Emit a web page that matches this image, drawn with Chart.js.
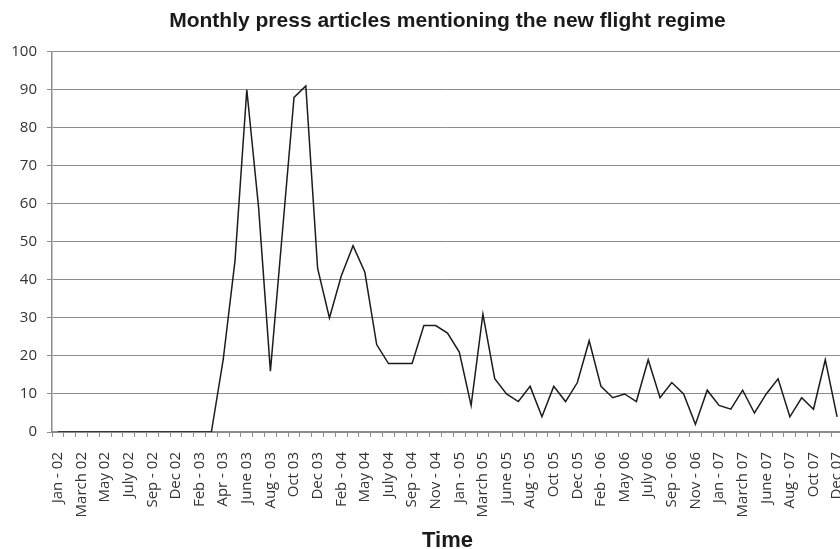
<!DOCTYPE html>
<html>
<head>
<meta charset="utf-8">
<script src="https://cdn.jsdelivr.net/npm/chart.js@4"></script>
<style>
  html, body { margin: 0; padding: 0; background: #ffffff; overflow: hidden; }
  #wrap { width: 840px; height: 549px; overflow: hidden; position: relative; background: #ffffff; }
  canvas { display: block; }
</style>
</head>
<body>
<div id="wrap"><canvas id="chart" width="880" height="552"></canvas></div>
<script>
// Month categories (a few months are absent from the series)
const categories = [
  "Jan - 02", "Feb 02", "March 02", "Apr 02", "May 02", "June 02", "July 02", "Aug 02",
  "Sep - 02", "Oct 02", "Dec 02", "Jan 03", "Feb - 03", "March 03", "Apr - 03", "May 03",
  "June 03", "July 03", "Aug - 03", "Sep 03", "Oct 03", "Nov 03", "Dec 03", "Jan 04",
  "Feb - 04", "March 04", "May 04", "June 04", "July 04", "Aug 04", "Sep - 04", "Oct 04",
  "Nov - 04", "Dec 04", "Jan - 05", "Feb 05", "March 05", "May 05", "June 05", "July 05",
  "Aug - 05", "Sep 05", "Oct 05", "Nov 05", "Dec 05", "Jan 06", "Feb - 06", "March 06",
  "May 06", "June 06", "July 06", "Aug 06", "Sep - 06", "Oct 06", "Nov - 06", "Dec 06",
  "Jan - 07", "Feb 07", "March 07", "May 07", "June 07", "July 07", "Aug - 07", "Sep 07",
  "Oct 07", "Nov 07", "Dec 07"
];

// Number of press articles per month
const articles = [
  0, 0, 0, 0, 0, 0, 0, 0,
  0, 0, 0, 0, 0, 0, 19, 45,
  90, 59, 16, 52, 88, 91, 43, 30,
  41, 49, 42, 23, 18, 18, 18, 28,
  28, 26, 21, 7, 31, 14, 10, 8,
  12, 4, 12, 8, 13, 24, 12, 9,
  10, 8, 19, 9, 13, 10, 2, 11,
  7, 6, 11, 5, 10, 14, 4, 9,
  6, 19, 4
];

// Value axis range
const yMin = 0;
const yMax = 100;
const yStep = 10;

const chartTitle = "Monthly press articles mentioning the new flight regime";
const xTitle = "Time";

const gridGray = "#8c8c8c";
const textDark = "#333333";

new Chart(document.getElementById("chart"), {
  type: "line",
  data: {
    labels: categories,
    datasets: [{
      data: articles,
      borderColor: "#1c1c1c",
      borderWidth: 1.5,
      pointRadius: 0,
      tension: 0,
      fill: false
    }]
  },
  options: {
    responsive: false,
    animation: false,
    layout: { padding: { left: 0, right: 37, top: 0, bottom: 0 } },
    plugins: {
      legend: { display: false },
      tooltip: { enabled: false },
      title: {
        display: true,
        text: chartTitle,
        fullSize: false,
        color: "#1a1a1a",
        font: { family: "'Liberation Sans', Arial, sans-serif", size: 21, weight: "bold", lineHeight: 1.2 },
        padding: { top: 9, bottom: 17.5 }
      }
    },
    scales: {
      x: {
        type: "category",
        offset: true,
        grid: {
          offset: true,
          drawOnChartArea: false,
          drawTicks: true,
          tickLength: 5,
          color: gridGray,
          lineWidth: 1
        },
        border: { color: gridGray, width: 1.5 },
        ticks: {
          autoSkip: false,
          minRotation: 90,
          maxRotation: 90,
          padding: 15,
          color: textDark,
          font: { family: "'Open Sans', sans-serif", size: 15 },
          callback: function (value, index) {
            return index % 2 === 0 ? categories[index] : "";
          }
        },
        title: {
          display: true,
          text: xTitle,
          color: "#1a1a1a",
          font: { family: "'Liberation Sans', Arial, sans-serif", size: 22, weight: "bold", lineHeight: 1 },
          padding: { top: 0, bottom: 0 }
        },
        afterFit: function (scale) { scale.height = 120; }
      },
      y: {
        min: yMin,
        max: yMax,
        ticks: {
          stepSize: yStep,
          padding: 10,
          color: textDark,
          font: { family: "'Open Sans', sans-serif", size: 15 }
        },
        grid: { color: gridGray, lineWidth: 1, tickLength: 5 },
        border: { color: gridGray, width: 1.5 },
        afterFit: function (scale) { scale.width = 52; }
      }
    }
  }
});
</script>
</body>
</html>
